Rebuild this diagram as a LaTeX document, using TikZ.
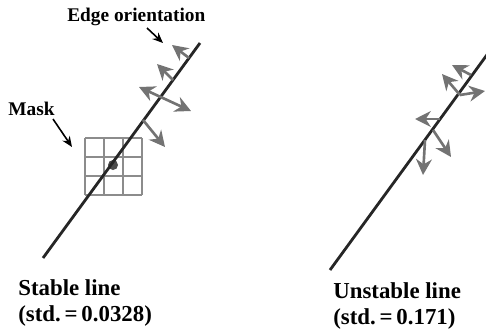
\documentclass[tikz,border=0pt]{standalone}
\usepackage{fontspec}
\setmainfont{Liberation Serif}
\usetikzlibrary{arrows.meta,calc}

\begin{document}
\begin{tikzpicture}[
x=0.02cm,y=-0.02cm,
every node/.style={
inner sep=0pt,
font=\bfseries
},
lbl/.style={font=\bfseries\fontsize{13}{15}\selectfont,anchor=base west},
smalllbl/.style={font=\bfseries\fontsize{11}{13}\selectfont,anchor=base west},
edgeline/.style={line width=1.6pt,black!85},
orient/.style={-{Stealth[length=9pt,width=9pt]},line width=1.5pt,black!55},
orientboth/.style={{Stealth[length=9pt,width=9pt]}-{Stealth[length=9pt,width=9pt]},line width=1.5pt,black!55},
pointer/.style={-{Stealth[length=6pt,width=5pt]},line width=0.9pt},
cell/.style={draw=black!45,line width=1.1pt}
]
\useasboundingbox (0,0) rectangle (486,335);

% labels
\node[smalllbl] (edgelbl) at (67,21) {Edge orientation};
\node[smalllbl] (masklbl) at (8,115) {Mask};
\node[lbl] (stable) at (18,295) {Stable line};
\node[lbl] (stablestd) at (18,321) {(std.\,=\,0.0328)};
\node[lbl] (unstable) at (333,298) {Unstable line};
\node[lbl] (unstablestd) at (333,324) {(std.\,=\,0.171)};

% mask grid
\foreach \i in {0,1,2,3} {
  \draw[cell] (85+19*\i,138) -- (85+19*\i,195);
  \draw[cell] (85,138+19*\i) -- (142,138+19*\i);
}
\fill[black!70] (113,165) circle (5);

% stable line
\coordinate (sa) at (43,258);
\coordinate (sb) at (200,43);
\draw[edgeline] (sa) -- (sb);
\draw[orient] (189,58) -- (172,45);
\draw[orient] (173,80) -- (157,64);
\draw[orientboth] (139,87) -- (191,111);
\draw[orient] (143,120) -- (165,147);

% unstable line
\coordinate (ua) at (330,270);
\coordinate (ub) at (489,52);
\draw[edgeline] (ua) -- (ub);
\draw[orient] (471,75) -- (452,65);
\draw[orient] (460,95) -- (442,74);
\draw[orient] (460,95) -- (485,91);
\draw[orient] (440,119) -- (415,119);
\draw[orient] (433,130) -- (451,157);
\draw[orient] (425,140) -- (423,175);

% pointers
\coordinate (edgetail) at (147,28);
\coordinate (edgetip) at (163,43);
\draw[pointer] (edgetail) -- (edgetip);
\coordinate (masktail) at (53,119);
\coordinate (masktip) at (72,147);
\draw[pointer] (masktail) -- (masktip);
\end{tikzpicture}
\end{document}
